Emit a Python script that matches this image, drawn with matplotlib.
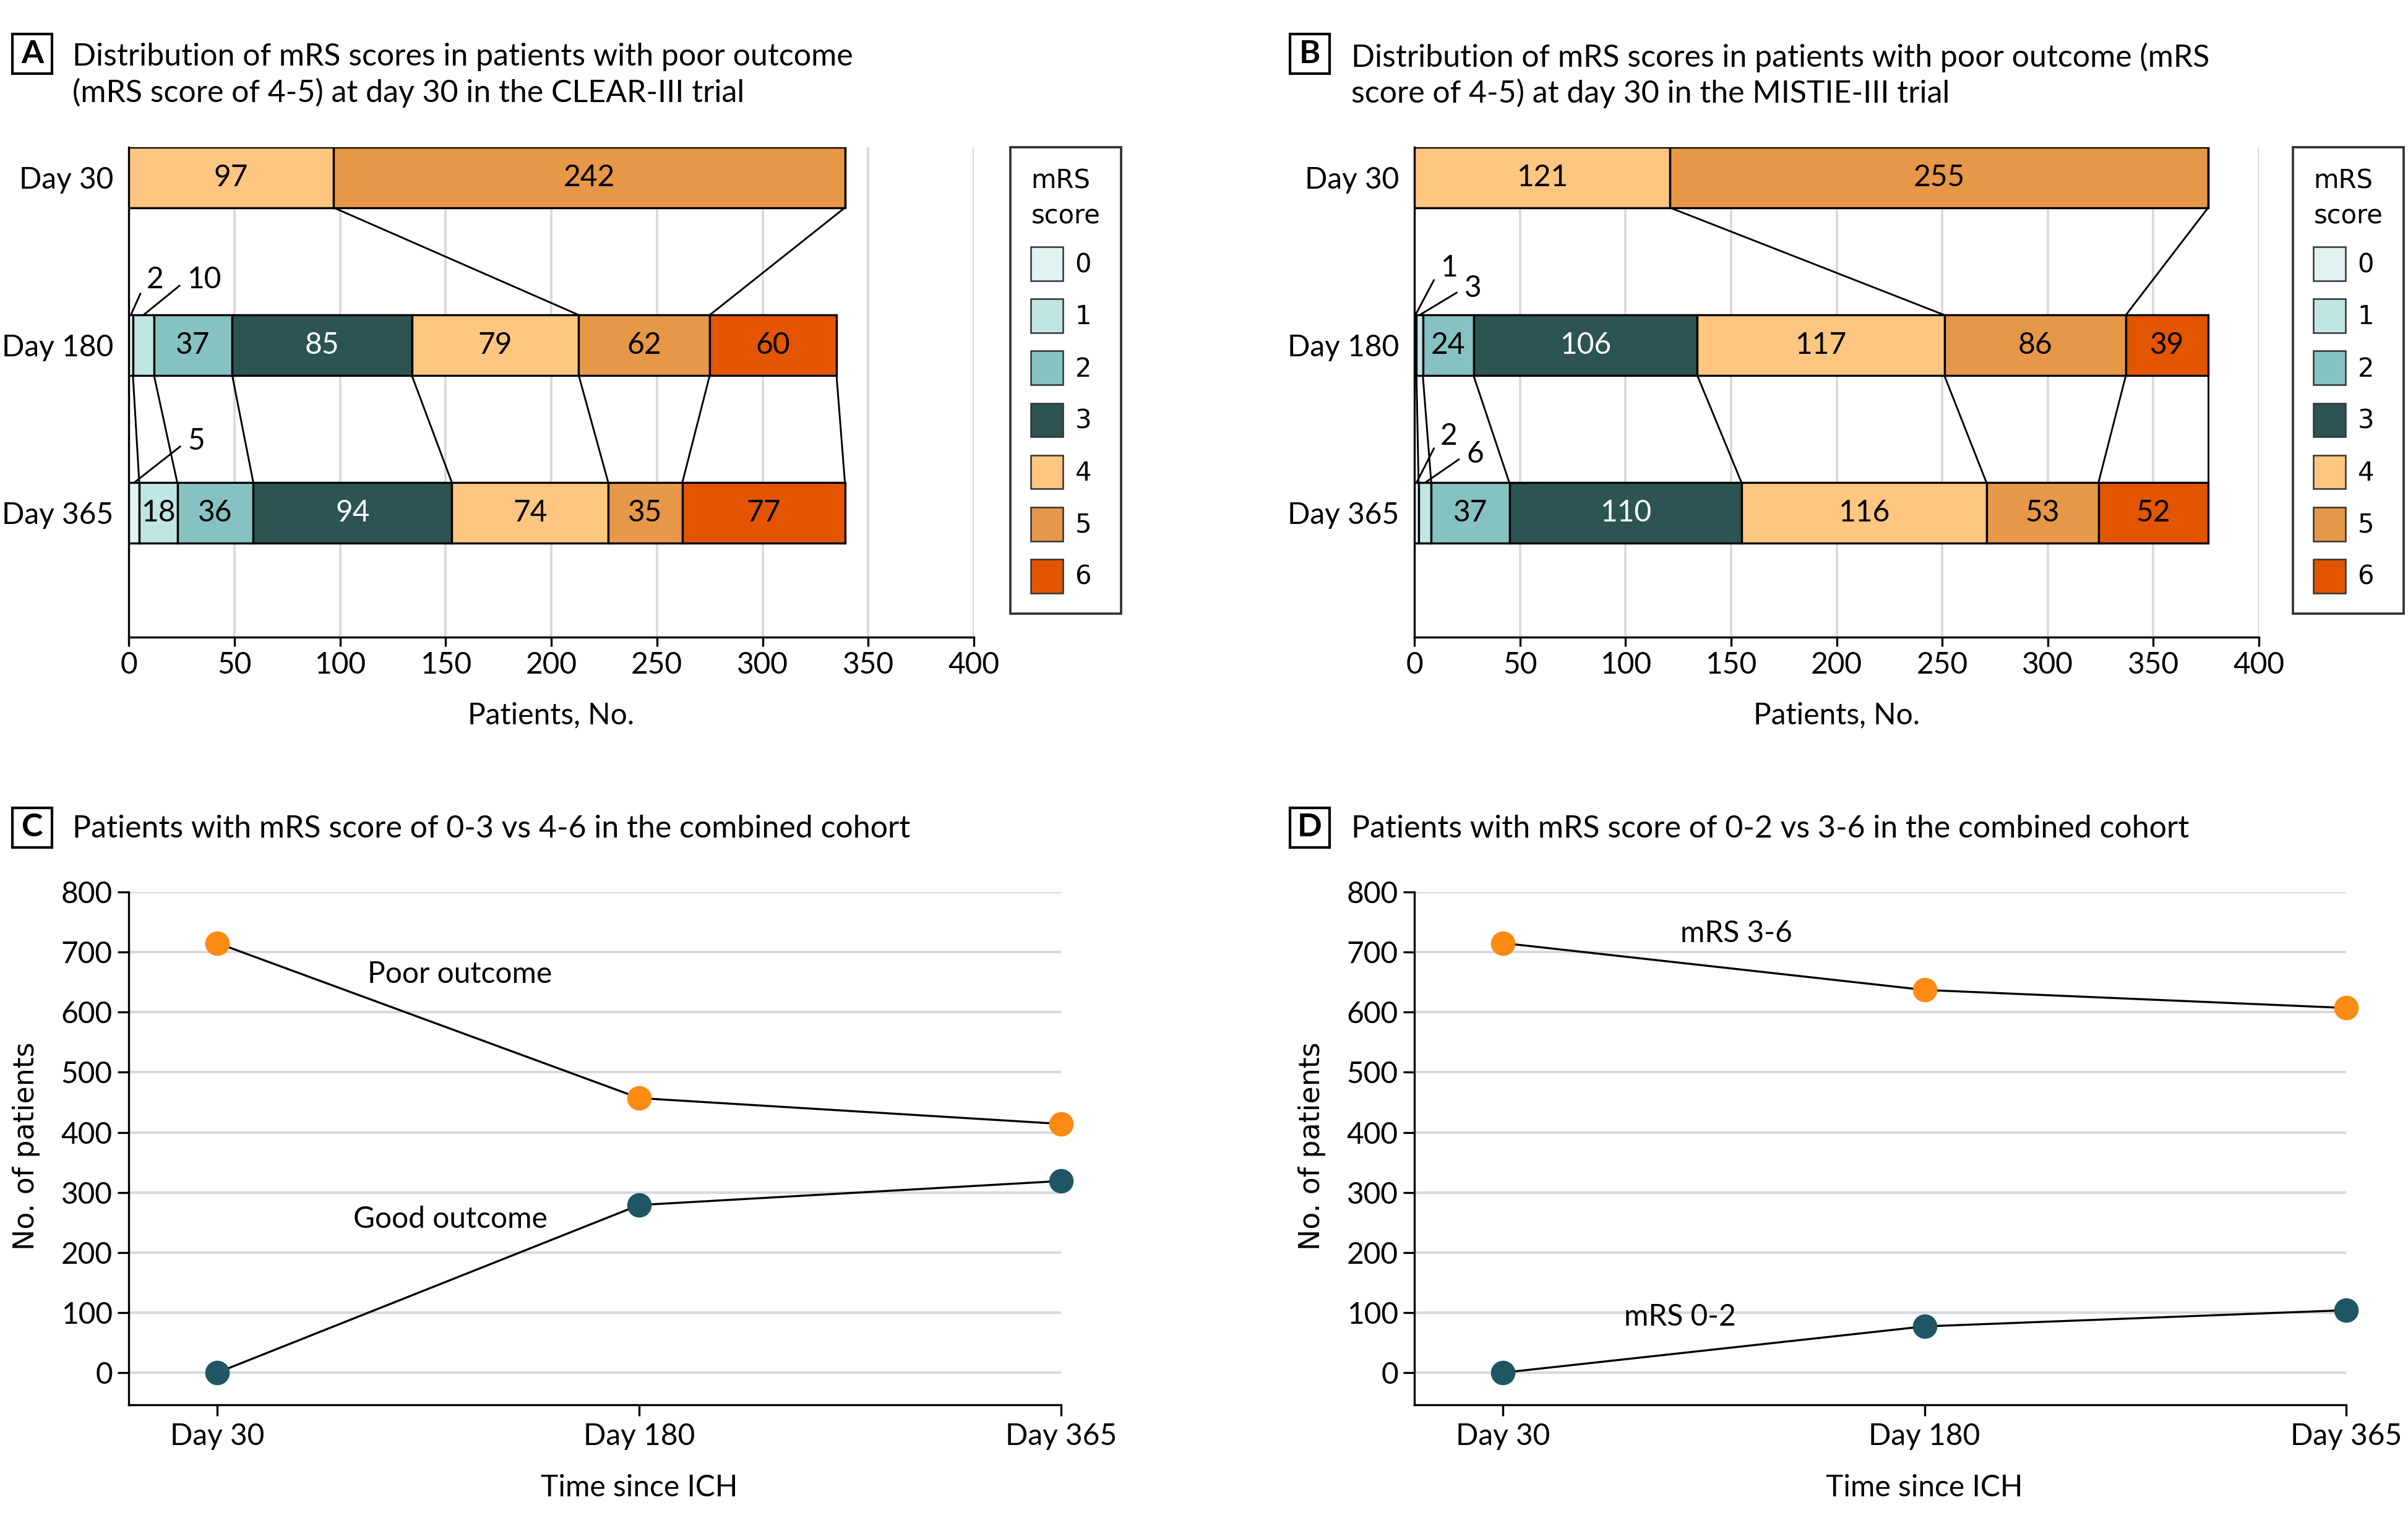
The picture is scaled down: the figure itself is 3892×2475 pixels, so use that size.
import matplotlib
matplotlib.use('Agg')
import matplotlib.pyplot as plt
from matplotlib.patches import Patch, Rectangle
import numpy as np

# narrow-ish sans for most text, DejaVu for legend and y label
plt.rcParams['font.family'] = ['Lato', 'DejaVu Sans']

# mRS categories and colours
scores = ['0', '1', '2', '3', '4', '5', '6']
score_colors = ['#e0f2f1', '#c0e6e4', '#86c2c1', '#2b5453', '#fec680', '#e69748', '#e35500']
days = ['Day 30', 'Day 180', 'Day 365']

# panel A, CLEAR-III trial
clear_day30 = [0, 0, 0, 0, 97, 242, 0]
clear_day180 = [2, 10, 37, 85, 79, 62, 60]
clear_day365 = [5, 18, 36, 94, 74, 35, 77]

# panel B, MISTIE-III trial
mistie_day30 = [0, 0, 0, 0, 121, 255, 0]
mistie_day180 = [1, 3, 24, 106, 117, 86, 39]
mistie_day365 = [2, 6, 37, 110, 116, 53, 52]

# panel C, combined cohort 0-3 vs 4-6
poor_outcome = [715, 457, 414]
good_outcome = [0, 279, 319]

# panel D, combined cohort 0-2 vs 3-6
mrs_3_6 = [715, 637, 607]
mrs_0_2 = [0, 77, 104]

# where the small segment labels sit (row, category) -> (x, y)
clear_callouts = {(1, 0): (8.5, 0.61), (1, 1): (27.5, 0.61), (2, 0): (27.8, 1.57)}
mistie_callouts = {(1, 0): (12.3, 0.54), (1, 1): (23.6, 0.66),
                   (2, 0): (12.3, 1.54), (2, 1): (24.6, 1.65)}

W, H = 3892, 2475
fig = plt.figure(figsize=(W / 300, H / 300), dpi=300)

BAR_H = 0.36
TXT = 11.5


def fx(px):
    return px / W


def fy(py):
    return 1 - py / H


def panel_title(letter, box_x, text_x, y_mid, text, box_mid=None):
    # boxed panel letter + title text
    if box_mid is None:
        box_mid = y_mid
    fig.patches.append(Rectangle((fx(box_x), fy(box_mid + 32)), 64 / W, 64 / H,
                                 transform=fig.transFigure, fc='white', ec='black', lw=1.0))
    fig.text(fx(box_x + 32), fy(box_mid), letter, ha='center', va='center',
             fontsize=12.5, fontweight='bold')
    fig.text(fx(text_x), fy(y_mid), text, ha='left', va='center', fontsize=12,
             linespacing=1.25)


def mrs_bars(ax, rows, callouts, legend_x):
    n = len(rows)
    ypos = np.arange(n)
    lefts = [np.concatenate([[0], np.cumsum(r)[:-1]]) for r in rows]
    rights = [np.cumsum(r) for r in rows]

    for k in range(len(scores)):
        vals = [r[k] for r in rows]
        ax.barh(ypos, vals, left=[l[k] for l in lefts], height=BAR_H,
                color=score_colors[k], edgecolor='black', linewidth=0.8, zorder=3)

    # connectors between consecutive days
    for i in range(n - 1):
        for k in range(len(scores)):
            if rows[i][k] > 0:
                ax.plot([rights[i][k], rights[i + 1][k]],
                        [i + BAR_H / 2, i + 1 - BAR_H / 2],
                        color='black', lw=0.7, zorder=2)

    # value labels
    for i, r in enumerate(rows):
        for k, v in enumerate(r):
            if v == 0:
                continue
            cx = lefts[i][k] + v / 2
            if (i, k) in callouts:
                tx, ty = callouts[(i, k)]
                ax.annotate(str(v), xy=(cx, i - BAR_H / 2), xytext=(tx, ty),
                            ha='left', va='center', fontsize=TXT,
                            arrowprops=dict(arrowstyle='-', lw=0.7, color='black',
                                            shrinkA=1, shrinkB=0, relpos=(0, 0.5)),
                            zorder=4)
            else:
                ax.text(cx, i, str(v), ha='center', va='center', fontsize=TXT,
                        color='white' if k == 3 else 'black', zorder=4)

    ax.set_xlim(0, 400)
    ax.set_ylim(2.74, -0.18)
    ax.set_xticks(np.arange(0, 401, 50))
    ax.set_yticks(ypos)
    ax.set_yticklabels(days)
    ax.tick_params(axis='y', length=0, pad=6, labelsize=TXT)
    ax.tick_params(axis='x', length=3.5, width=0.8, pad=2, labelsize=TXT)
    ax.xaxis.grid(True, color='#d9d9d9', lw=0.9)
    ax.set_axisbelow(True)
    for s in ['top', 'right']:
        ax.spines[s].set_visible(False)
    for s in ['left', 'bottom']:
        ax.spines[s].set_linewidth(0.8)
    ax.set_xlabel('Patients, No.', fontsize=TXT)
    ax.xaxis.set_label_coords(0.5, -0.16)
    ax.xaxis.label.set_verticalalignment('center')

    handles = [Patch(facecolor=c, edgecolor='#333333', linewidth=0.6, label=s)
               for c, s in zip(score_colors, scores)]
    leg = ax.legend(handles=handles, title='mRS\nscore', loc='upper left',
                    bbox_to_anchor=(fx(legend_x), fy(238)), bbox_transform=fig.transFigure,
                    borderaxespad=0, frameon=True, fancybox=False,
                    prop={'family': 'DejaVu Sans', 'size': 10},
                    title_fontproperties={'family': 'DejaVu Sans', 'size': 10},
                    handlelength=1.25, handleheight=1.65, labelspacing=0.7,
                    handletextpad=0.46, borderpad=0.8, alignment='left')
    leg.get_title().set_linespacing(1.45)
    leg.get_frame().set_edgecolor('black')
    leg.get_frame().set_linewidth(0.9)


def outcome_lines(ax, upper, lower, upper_label, lower_label, upper_xy, lower_xy):
    x = np.arange(len(days))
    for vals, col in [(upper, '#fd8a12'), (lower, '#1e5663')]:
        ax.plot(x, vals, '-', color='black', lw=0.8, zorder=3, clip_on=False)
        ax.plot(x, vals, 'o', color=col, mec=col, ms=8.5, zorder=4, clip_on=False)
    ax.text(upper_xy[0], upper_xy[1], upper_label, ha='center', va='center', fontsize=TXT)
    ax.text(lower_xy[0], lower_xy[1], lower_label, ha='center', va='center', fontsize=TXT)

    ax.set_xlim(-0.21, 2)
    ax.set_ylim(-53.5, 800)
    ax.set_xticks(x)
    ax.set_xticklabels(days)
    ax.set_yticks(np.arange(0, 801, 100))
    ax.yaxis.grid(True, color='#d9d9d9', lw=1.0)
    ax.set_axisbelow(True)
    ax.tick_params(axis='both', length=4.3, width=0.8, labelsize=TXT)
    ax.tick_params(axis='y', pad=2)
    ax.tick_params(axis='x', pad=2.6)
    for s in ['top', 'right']:
        ax.spines[s].set_visible(False)
    for s in ['left', 'bottom']:
        ax.spines[s].set_linewidth(0.8)
    # x label sits under the middle time point
    ax.set_xlabel('Time since ICH', fontsize=TXT)
    ax.xaxis.set_label_coords(1.21 / 2.21, -0.162)
    ax.xaxis.label.set_verticalalignment('center')
    ax.set_ylabel('No. of patients', family='DejaVu Sans', fontsize=11)
    ax.yaxis.set_label_coords(-0.11, 0.505)
    ax.yaxis.label.set_verticalalignment('center')


# panel A
axA = fig.add_axes([fx(208), fy(1030), (1574 - 208) / W, (1030 - 238) / H])
mrs_bars(axA, [clear_day30, clear_day180, clear_day365], clear_callouts, 1633)
panel_title('A', 20, 117, 92 + 29.5,
            'Distribution of mRS scores in patients with poor outcome\n'
            '(mRS score of 4-5) at day 30 in the CLEAR-III trial', box_mid=87)

# panel B
axB = fig.add_axes([fx(2286), fy(1030), (3651 - 2286) / W, (1030 - 238) / H])
mrs_bars(axB, [mistie_day30, mistie_day180, mistie_day365], mistie_callouts, 3706)
panel_title('B', 2085, 2184, 92 + 29.5,
            'Distribution of mRS scores in patients with poor outcome (mRS\n'
            'score of 4-5) at day 30 in the MISTIE-III trial', box_mid=87)

# panel C
axC = fig.add_axes([fx(208), fy(2271), (1715 - 208) / W, (2271 - 1442) / H])
outcome_lines(axC, poor_outcome, good_outcome, 'Poor outcome', 'Good outcome',
              (0.575, 663), (0.553, 255))
panel_title('C', 20, 117, 1340, 'Patients with mRS score of 0-3 vs 4-6 in the combined cohort',
            box_mid=1338)

# panel D
axD = fig.add_axes([fx(2286), fy(2271), (3792 - 2286) / W, (2271 - 1442) / H])
outcome_lines(axD, mrs_3_6, mrs_0_2, 'mRS 3-6', 'mRS 0-2', (0.554, 731), (0.42, 93))
panel_title('D', 2085, 2184, 1340, 'Patients with mRS score of 0-2 vs 3-6 in the combined cohort',
            box_mid=1338)

fig.savefig('out.png', dpi=300)
